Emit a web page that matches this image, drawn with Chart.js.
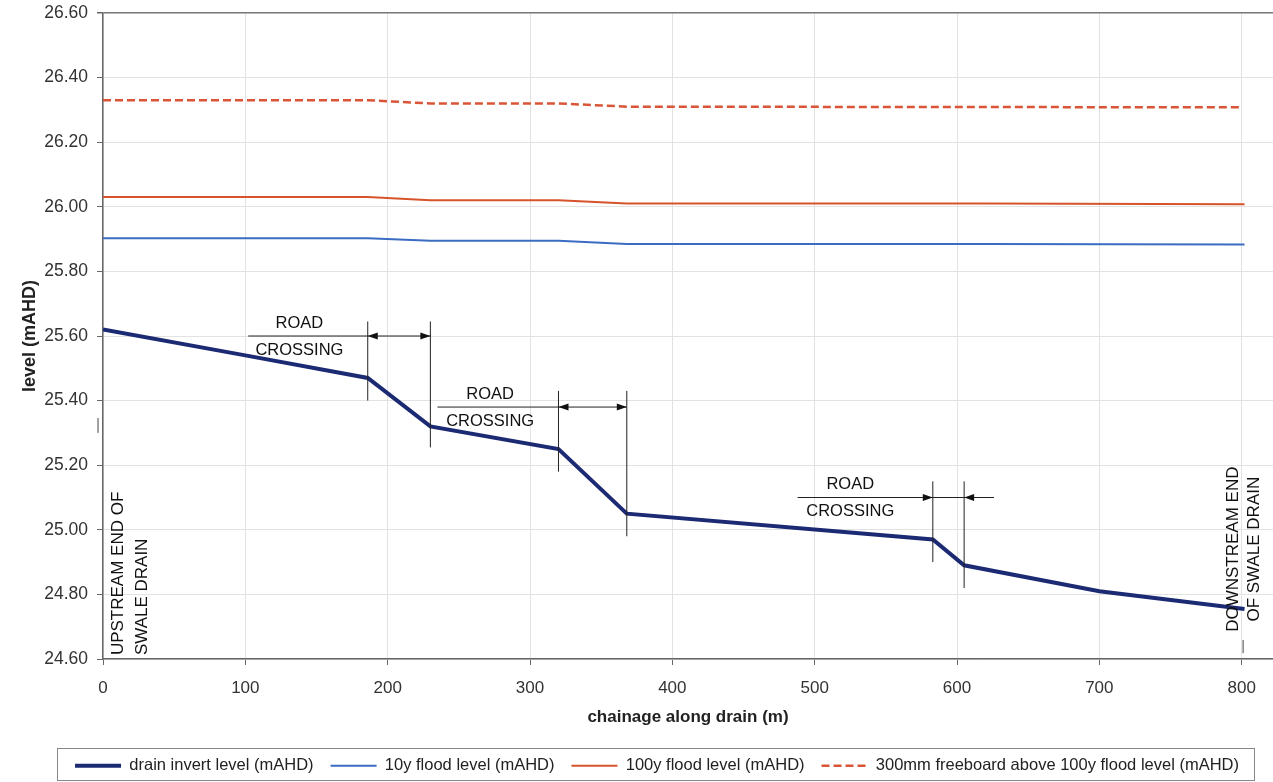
<!DOCTYPE html>
<html>
<head>
<meta charset="utf-8">
<script src="https://cdn.jsdelivr.net/npm/chart.js@4"></script>
<style>
  body { margin: 0; background: #fff; }
  #wrap { width: 1273px; height: 782px; }
</style>
</head>
<body>
<div id="wrap"><canvas id="chart"></canvas></div>
<script>
var drainX = [0, 100, 186, 230, 320, 368, 583, 605, 700, 802];
var drainInvert = [25.62, 25.54, 25.47, 25.32, 25.25, 25.05, 24.97, 24.89, 24.81, 24.755];

var floodX = [0, 186, 230, 320, 368, 620, 802];
var flood10y = [25.903, 25.903, 25.895, 25.895, 25.885, 25.885, 25.883];
var flood100y = [26.03, 26.03, 26.02, 26.02, 26.01, 26.01, 26.008];

var freeboardX = [0, 186, 230, 320, 368, 800];
var freeboard = [26.33, 26.33, 26.32, 26.32, 26.31, 26.308];

var seriesLabels = [
    'drain invert level (mAHD)',
    '10y flood level (mAHD)',
    '100y flood level (mAHD)',
    '300mm freeboard above 100y flood level (mAHD)'
];

var xTicks = [0, 100, 200, 300, 400, 500, 600, 700, 800];

// road crossings: start/end chainage and the invert range each marker line spans
var crossStart = [186, 320, 583];
var crossEnd = [230, 368, 605];
var crossStartSpan = [[25.40, 25.645], [25.18, 25.43], [24.90, 25.15]];
var crossEndSpan = [[25.255, 25.645], [24.98, 25.43], [24.82, 25.15]];
var dimLevel = [25.60, 25.38, 25.10];
var dimFrom = [102, 235, 488];
var dimTo = [230, 368, 626];
var labelAt = [138, 272, 525];
var arrowsOutside = [false, false, true];

var FONT = '"Liberation Sans", Arial, sans-serif';

function toPoints(xs, ys) {
    var pts = [];
    for (var i = 0; i < xs.length; i++) pts.push({ x: xs[i], y: ys[i] });
    return pts;
}

function arrowHead(ctx, tipX, y, dir) {
    ctx.beginPath();
    ctx.moveTo(tipX, y);
    ctx.lineTo(tipX - dir * 10, y - 3.5);
    ctx.lineTo(tipX - dir * 10, y + 3.5);
    ctx.closePath();
    ctx.fill();
}

var annotations = {
    id: 'annotations',
    afterDatasetsDraw: function (chart) {
        var ctx = chart.ctx;
        var xs = chart.scales.x, ys = chart.scales.y;
        ctx.save();
        ctx.strokeStyle = '#222';
        ctx.fillStyle = '#111';
        ctx.lineWidth = 1;

        for (var i = 0; i < crossStart.length; i++) {
            var x1 = xs.getPixelForValue(crossStart[i]);
            var x2 = xs.getPixelForValue(crossEnd[i]);
            var yd = ys.getPixelForValue(dimLevel[i]);
            ctx.beginPath();
            ctx.moveTo(x1, ys.getPixelForValue(crossStartSpan[i][0]));
            ctx.lineTo(x1, ys.getPixelForValue(crossStartSpan[i][1]));
            ctx.moveTo(x2, ys.getPixelForValue(crossEndSpan[i][0]));
            ctx.lineTo(x2, ys.getPixelForValue(crossEndSpan[i][1]));
            ctx.moveTo(xs.getPixelForValue(dimFrom[i]), yd);
            ctx.lineTo(xs.getPixelForValue(dimTo[i]), yd);
            ctx.stroke();
            if (arrowsOutside[i]) {
                arrowHead(ctx, x1, yd, 1);
                arrowHead(ctx, x2, yd, -1);
            } else {
                arrowHead(ctx, x1, yd, -1);
                arrowHead(ctx, x2, yd, 1);
            }
            ctx.font = '16.5px ' + FONT;
            ctx.textAlign = 'center';
            ctx.textBaseline = 'middle';
            var tx = xs.getPixelForValue(labelAt[i]);
            ctx.fillText('ROAD', tx, yd - 13);
            ctx.fillText('CROSSING', tx, yd + 14);
        }

        // ends of the drain
        ctx.font = '17px ' + FONT;
        ctx.textBaseline = 'middle';
        ctx.save();
        ctx.translate(xs.getPixelForValue(10.5), ys.getPixelForValue(24.612));
        ctx.rotate(-Math.PI / 2);
        ctx.textAlign = 'left';
        ctx.fillText('UPSTREAM END OF', 0, 0);
        ctx.fillText('SWALE DRAIN', 0, 24);
        ctx.restore();

        ctx.save();
        ctx.translate(xs.getPixelForValue(794), ys.getPixelForValue(24.94));
        ctx.rotate(-Math.PI / 2);
        ctx.textAlign = 'center';
        ctx.fillText('DOWNSTREAM END', 0, 0);
        ctx.fillText('OF SWALE DRAIN', 0, 21);
        ctx.restore();

        // small marker ticks
        ctx.strokeStyle = '#444';
        ctx.beginPath();
        ctx.moveTo(xs.getPixelForValue(-3.5), ys.getPixelForValue(25.346));
        ctx.lineTo(xs.getPixelForValue(-3.5), ys.getPixelForValue(25.30));
        ctx.moveTo(xs.getPixelForValue(801), ys.getPixelForValue(24.659));
        ctx.lineTo(xs.getPixelForValue(801), ys.getPixelForValue(24.618));
        ctx.stroke();
        ctx.restore();
    },
    afterDraw: function (chart) {
        // frame round the legend
        var boxes = chart.legend.legendHitBoxes;
        if (!boxes || !boxes.length) return;
        var first = boxes[0], last = boxes[boxes.length - 1];
        var ctx = chart.ctx;
        ctx.save();
        ctx.strokeStyle = '#888';
        ctx.lineWidth = 1;
        ctx.strokeRect(Math.round(first.left - 18) + 0.5, Math.round(first.top - 10) + 0.5,
            Math.round(last.left + last.width - first.left + 33), 32);
        ctx.restore();
    }
};

var ctx = document.getElementById('chart').getContext('2d');
var myLineChart = new Chart(ctx, {
    type: 'line',
    data: {
        datasets: [{
            label: seriesLabels[0],
            data: toPoints(drainX, drainInvert),
            borderColor: '#1b2a72',
            borderWidth: 4,
            pointRadius: 0,
            fill: false
        }, {
            label: seriesLabels[1],
            data: toPoints(floodX, flood10y),
            borderColor: '#3b6cc4',
            borderWidth: 2,
            pointRadius: 0,
            fill: false
        }, {
            label: seriesLabels[2],
            data: toPoints(floodX, flood100y),
            borderColor: '#d6532b',
            borderWidth: 2,
            pointRadius: 0,
            fill: false
        }, {
            label: seriesLabels[3],
            data: toPoints(freeboardX, freeboard),
            borderColor: '#da5537',
            borderWidth: 2.5,
            borderDash: [8, 4],
            pointRadius: 0,
            fill: false
        }]
    },
    options: {
        responsive: true,
        maintainAspectRatio: false,
        animation: false,
        layout: { padding: { top: 13, left: 41, right: 0, bottom: -2 } },
        plugins: {
            tooltip: { enabled: false },
            legend: {
                position: 'bottom',
                labels: {
                    usePointStyle: true,
                    pointStyle: 'line',
                    pointStyleWidth: 46,
                    padding: 17,
                    color: '#222',
                    font: { family: FONT, size: 16.5 },
                    generateLabels: function (chart) {
                        var items = Chart.defaults.plugins.legend.labels.generateLabels(chart);
                        items.forEach(function (item) {
                            var ds = chart.data.datasets[item.datasetIndex];
                            item.lineDash = ds.borderDash || [];
                            item.lineWidth = ds.borderWidth;
                        });
                        return items;
                    }
                }
            }
        },
        scales: {
            x: {
                type: 'linear',
                min: 0,
                max: 822,
                afterBuildTicks: function (axis) {
                    axis.ticks = xTicks.map(function (v) { return { value: v }; });
                },
                afterFit: function (scale) { scale.height = 81.5; },
                ticks: {
                    color: '#333',
                    padding: 13,
                    font: { family: FONT, size: 17 }
                },
                grid: { color: '#e2e2e2', tickColor: '#666', tickLength: 6 },
                border: { color: '#666', width: 1.5 },
                title: {
                    display: true,
                    text: 'chainage along drain (m)',
                    color: '#222',
                    padding: { top: 4, bottom: 13.3 },
                    font: { family: FONT, size: 17, weight: 'bold' }
                }
            },
            y: {
                min: 24.6,
                max: 26.6,
                afterFit: function (scale) {
                    scale.width = 62;
                    scale.paddingTop = 0;
                },
                ticks: {
                    stepSize: 0.2,
                    color: '#333',
                    padding: 9,
                    font: { family: FONT, size: 17.5 },
                    callback: function (v) { return Number(v).toFixed(2); }
                },
                grid: {
                    tickColor: '#666',
                    tickLength: 6,
                    color: function (c) {
                        return c.tick && Math.abs(c.tick.value - 26.6) < 1e-6 ? '#777' : '#e2e2e2';
                    },
                    lineWidth: function (c) {
                        return c.tick && Math.abs(c.tick.value - 26.6) < 1e-6 ? 1.5 : 1;
                    }
                },
                border: { color: '#666', width: 1.5 },
                title: {
                    display: true,
                    text: 'level (mAHD)',
                    color: '#222',
                    padding: { top: -21.8, bottom: 4 },
                    font: { family: FONT, size: 18, weight: 'bold' }
                }
            }
        }
    },
    plugins: [annotations]
});
</script>
</body>
</html>
